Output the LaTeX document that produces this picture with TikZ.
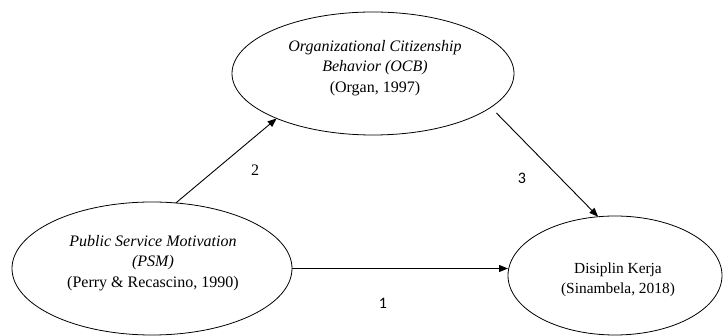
\documentclass[tikz,border=0pt]{standalone}
\usepackage{fontspec}
\setmainfont{Liberation Serif}
\newfontfamily\calib{Carlito}
\usetikzlibrary{shapes.geometric,arrows.meta}
\tikzset{
  oval/.style={ellipse, draw, line width=0.8pt, inner sep=0pt, outer sep=0pt},
  txt/.style={align=center, font=\fontsize{16}{20.5}\selectfont, inner sep=0pt},
  conn/.style={line width=0.9pt, -{Triangle[length=9pt,width=7pt]}},
  numlab/.style={font=\fontsize{16}{18}\selectfont, inner sep=0pt},
  sanslab/.style={font=\calib\fontsize{16}{18}\selectfont, inner sep=0pt}
}
\begin{document}
\begin{tikzpicture}[x=1pt,y=-1pt]
\useasboundingbox (0,0) rectangle (724,336);
\node[oval, minimum width=282pt, minimum height=123pt] (ocb) at (373,73.5) {};
\node[oval, minimum width=280pt, minimum height=133pt] (psm) at (152,268.5) {};
\node[oval, minimum width=214pt, minimum height=119pt] (dk) at (615,275.5) {};
\node[txt] (ocbt) at (375,68) {\itshape Organizational Citizenship\\ \itshape Behavior (OCB)\\ (Organ, 1997)};
\node[txt] (psmt) at (153,263) {\itshape Public Service Motivation\\ \itshape (PSM)\\ (Perry \& Recascino, 1990)};
\node[txt, font=\fontsize{15.4}{19.5}\selectfont] (dkt) at (618,280) {Disiplin Kerja\\ (Sinambela, 2018)};
\draw[conn] (psm.-0.6) -- (dk.west |- psm.-0.6);
\draw[conn] (psm.70) -- (ocb.205);
\draw[conn, shorten <=8pt] (ocb.344) -- (dk.106);
\node[sanslab] (n1) at (383,303) {1};
\node[numlab] (n2) at (255,170) {2};
\node[sanslab] (n3) at (522,178) {3};
\end{tikzpicture}
\end{document}
